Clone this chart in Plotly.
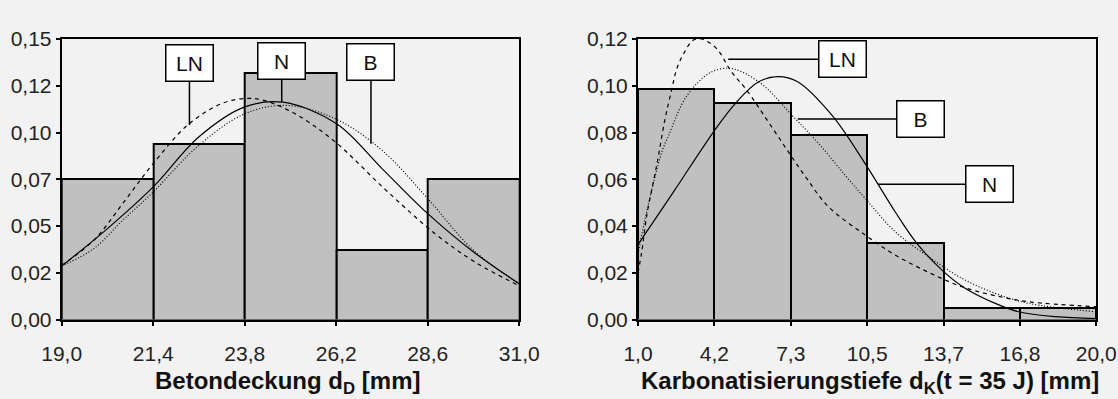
import plotly.graph_objects as go

# ---------------- data: left chart (Betondeckung) ----------------
left_bin_edges = [19.0, 21.4, 23.8, 26.2, 28.6, 31.0]
left_bar_heights = [0.075, 0.094, 0.132, 0.037, 0.075]
left_xtick_vals = [19.0, 21.4, 23.8, 26.2, 28.6, 31.0]
left_xtick_text = ["19,0", "21,4", "23,8", "26,2", "28,6", "31,0"]
left_ytick_vals = [0.0, 0.025, 0.05, 0.075, 0.10, 0.125, 0.15]
left_ytick_text = ["0,00", "0,02", "0,05", "0,07", "0,10", "0,12", "0,15"]

N_left_x = [19.0, 20.2, 21.4, 22.6, 23.8, 24.8, 26.2, 27.4, 28.6, 29.8, 31.0]
N_left_y = [0.0286, 0.0486, 0.0709, 0.0977, 0.1137, 0.1162, 0.1048, 0.0807, 0.0566, 0.0361, 0.0191]
LN_left_x = [19.0, 19.84, 20.6, 21.4, 22.32, 23.2, 23.8, 24.3, 25.12, 26.17, 27.48, 28.79, 29.84, 31.0]
LN_left_y = [0.029, 0.0423, 0.062, 0.0834, 0.1043, 0.1155, 0.1182, 0.1172, 0.1100, 0.095, 0.0696, 0.0459, 0.0307, 0.018]
B_left_x = [19.0, 19.84, 20.6, 21.4, 22.6, 23.8, 24.9, 26.2, 27.4, 28.6, 29.8, 31.0]
B_left_y = [0.0286, 0.0379, 0.053, 0.0682, 0.0932, 0.110, 0.1145, 0.1071, 0.0905, 0.0646, 0.037, 0.019]

# ---------------- data: right chart (Karbonatisierungstiefe) ----------------
right_bin_edges = [1.0, 4.1667, 7.3333, 10.5, 13.6667, 16.8333, 20.0]
right_bar_heights = [0.0986, 0.0925, 0.079, 0.0326, 0.0051, 0.0051]
right_xtick_text = ["1,0", "4,2", "7,3", "10,5", "13,7", "16,8", "20,0"]
right_ytick_vals = [0.0, 0.02, 0.04, 0.06, 0.08, 0.10, 0.12]
right_ytick_text = ["0,00", "0,02", "0,04", "0,06", "0,08", "0,10", "0,12"]

N_right_x = [1.0, 1.29, 2.5, 4.14, 5.04, 6.0, 6.81, 7.6, 9.03, 10.41, 11.66, 12.56, 13.67, 14.56, 15.81, 16.78, 18.3, 20.0]
N_right_y = [0.032, 0.0365, 0.055, 0.0804, 0.0925, 0.1017, 0.1039, 0.1018, 0.0875, 0.0668, 0.0461, 0.0326, 0.0205, 0.0134, 0.0069, 0.0033, 0.0012, 0.0004]
LN_right_x = [1.0, 1.15, 1.36, 1.77, 2.12, 2.40, 2.60, 2.88, 3.30, 3.63, 4.25, 4.87, 5.50, 6.40, 7.23, 7.99, 8.89, 10.41, 11.66, 13.04, 14.43, 15.81, 17.2, 20.0]
LN_right_y = [0.020, 0.0286, 0.0443, 0.0657, 0.0857, 0.0985, 0.107, 0.1135, 0.1196, 0.120, 0.116, 0.106, 0.0982, 0.0846, 0.0718, 0.0604, 0.0483, 0.0362, 0.0276, 0.0202, 0.014, 0.0102, 0.0076, 0.0055]
B_right_x = [1.0, 1.36, 1.98, 2.26, 3.02, 3.99, 4.74, 5.29, 6.26, 7.37, 8.48, 9.58, 10.41, 11.66, 13.04, 14.43, 15.81, 17.2, 20.0]
B_right_y = [0.028, 0.046, 0.0714, 0.0785, 0.0956, 0.1056, 0.1075, 0.106, 0.0996, 0.0875, 0.0754, 0.0618, 0.0519, 0.0376, 0.0269, 0.0176, 0.0112, 0.0069, 0.0033]

# label pointers: (text, axis, x, y, ax, ay)
labels = [
    ("LN", 1, 22.35, 0.104, 0, -62),
    ("N", 1, 24.77, 0.1164, 0, -41),
    ("B", 1, 27.11, 0.094, 0, -82),
    ("LN", 2, 4.74, 0.1113, 114, 0),
    ("B", 2, 7.62, 0.0858, 123, 0),
    ("N", 2, 10.94, 0.0579, 112, 0),
]

BG = "#f2f2f2"
BAR = "#c0c0c0"
FONT = "Liberation Sans, Arial, sans-serif"

fig = go.Figure()


def add_hist(edges, heights, xa, ya):
    centers = [(edges[i] + edges[i + 1]) / 2 for i in range(len(heights))]
    widths = [edges[i + 1] - edges[i] for i in range(len(heights))]
    fig.add_trace(go.Bar(x=centers, y=heights, width=widths,
                         marker=dict(color=BAR, line=dict(color="black", width=2)),
                         xaxis=xa, yaxis=ya, showlegend=False, hoverinfo="skip"))


def add_curve(xs, ys, dash, xa, ya):
    fig.add_trace(go.Scatter(x=xs, y=ys, mode="lines",
                             line=dict(color="black", width=1.2, dash=dash, shape="spline", smoothing=1.0),
                             xaxis=xa, yaxis=ya, showlegend=False, hoverinfo="skip"))


add_hist(left_bin_edges, left_bar_heights, "x", "y")
add_curve(N_left_x, N_left_y, "solid", "x", "y")
add_curve(LN_left_x, LN_left_y, "4px,4px", "x", "y")
add_curve(B_left_x, B_left_y, "1px,2px", "x", "y")

add_hist(right_bin_edges, right_bar_heights, "x2", "y2")
add_curve(N_right_x, N_right_y, "solid", "x2", "y2")
add_curve(LN_right_x, LN_right_y, "4px,4px", "x2", "y2")
add_curve(B_right_x, B_right_y, "1px,2px", "x2", "y2")

W, H = 1118, 399
ydom = [1 - 319.5 / H, 1 - 39 / H]

axis_common = dict(showgrid=False, zeroline=False, showline=True, linecolor="black", linewidth=2,
                   mirror=True, ticks="outside", ticklen=4, tickcolor="black", tickwidth=1.5,
                   tickfont=dict(family=FONT, size=21, color="#222"))

fig.update_layout(
    width=W, height=H,
    margin=dict(l=0, r=0, t=0, b=0, autoexpand=False),
    paper_bgcolor=BG, plot_bgcolor=BG,
    bargap=0,
    xaxis=dict(domain=[61.7 / W, 519.3 / W], range=[19.0, 31.0], tickvals=left_xtick_vals,
               ticktext=left_xtick_text, ticklabelstandoff=10, anchor="y", **axis_common),
    yaxis=dict(domain=ydom, range=[0, 0.15], tickvals=left_ytick_vals, ticktext=left_ytick_text,
               anchor="x", **axis_common),
    xaxis2=dict(domain=[638 / W, 1096.3 / W], range=[1.0, 20.0], tickvals=right_bin_edges,
                ticktext=right_xtick_text, ticklabelstandoff=10, anchor="y2", **axis_common),
    yaxis2=dict(domain=ydom, range=[0, 0.12], tickvals=right_ytick_vals, ticktext=right_ytick_text,
                anchor="x2", **axis_common),
)

for text, ax_i, x, y, ax, ay in labels:
    suffix = "" if ax_i == 1 else "2"
    fig.add_annotation(x=x, y=y, xref="x" + suffix, yref="y" + suffix, text=text,
                       showarrow=True, arrowhead=0, arrowwidth=1.5, arrowcolor="black",
                       ax=ax, ay=ay, axref="pixel", ayref="pixel",
                       font=dict(family=FONT, size=21, color="#111"),
                       bgcolor="white", bordercolor="black", borderwidth=1.5,
                       width=44, height=33, borderpad=1, align="center", valign="middle")

fig.add_annotation(x=287 / W, y=1 - 382 / H, xref="paper", yref="paper",
                   text="<b>Betondeckung d<sub>D</sub> [mm]</b>", showarrow=False,
                   font=dict(family=FONT, size=24, color="#111"), xanchor="center", yanchor="middle")
fig.add_annotation(x=870 / W, y=1 - 382 / H, xref="paper", yref="paper",
                   text="<b>Karbonatisierungstiefe d<sub>K</sub>(t = 35 J) [mm]</b>", showarrow=False,
                   font=dict(family=FONT, size=24, color="#111"), xanchor="center", yanchor="middle")

fig.write_html("out.html")
